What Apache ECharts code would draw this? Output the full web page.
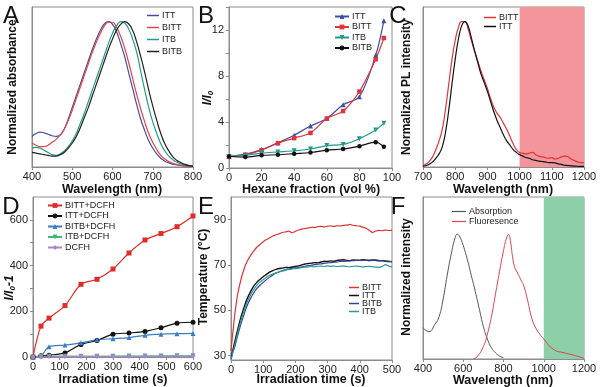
<!DOCTYPE html>
<html><head><meta charset="utf-8">
<script src="https://cdn.jsdelivr.net/npm/echarts@6/dist/echarts.min.js"></script>
<style>html,body{margin:0;padding:0;background:#fff}#c{width:600px;height:387px}</style>
</head><body><div id="c"></div>
<script>
// ---------- Panel A: absorbance ----------
const wlA = [400,410,420,430,440,450,460,470,480,490,500,510,520,530,540,550,560,570,580,590,600,610,620,630,640,650,660,670,680,690,700,710,720,730,740,750,760,770,780,790,800];
const absITT  = [0.21,0.23,0.24,0.235,0.225,0.215,0.21,0.22,0.26,0.33,0.41,0.49,0.57,0.65,0.73,0.81,0.88,0.94,0.985,1.0,0.98,0.93,0.85,0.76,0.65,0.54,0.43,0.33,0.25,0.18,0.13,0.09,0.06,0.04,0.028,0.02,0.014,0.01,0.007,0.005,0.004];
const absBITT = [0.165,0.15,0.14,0.14,0.15,0.17,0.19,0.22,0.26,0.32,0.39,0.47,0.55,0.63,0.71,0.79,0.86,0.92,0.97,0.995,0.995,0.96,0.9,0.82,0.72,0.61,0.5,0.4,0.31,0.23,0.17,0.12,0.08,0.055,0.037,0.025,0.017,0.012,0.008,0.006,0.004];
const absITB  = [0.13,0.135,0.13,0.115,0.1,0.085,0.08,0.09,0.11,0.14,0.18,0.23,0.3,0.37,0.45,0.53,0.61,0.69,0.77,0.85,0.92,0.97,1.0,0.99,0.95,0.88,0.79,0.66,0.53,0.41,0.31,0.23,0.16,0.11,0.075,0.05,0.033,0.022,0.014,0.009,0.006];
const absBITB = [0.1,0.095,0.09,0.085,0.08,0.075,0.075,0.085,0.1,0.13,0.165,0.21,0.27,0.34,0.41,0.49,0.57,0.65,0.73,0.81,0.88,0.94,0.98,1.0,0.985,0.94,0.86,0.76,0.65,0.53,0.42,0.32,0.23,0.16,0.11,0.07,0.045,0.03,0.018,0.01,0.006];

// ---------- Panel B: AIE ----------
const hexFrac = [0,10,20,30,40,50,60,70,80,90,95];
const bITT  = [1.0,1.2,1.6,2.2,2.85,3.65,4.3,5.5,6.2,9.8,12.8];
const bBITT = [1.0,1.15,1.55,2.15,2.6,3.05,4.3,4.95,6.65,9.45,11.3];
const bITB  = [1.0,1.1,1.3,1.4,1.5,1.65,1.95,2.05,2.55,3.3,3.9];
const bBITB = [1.0,0.95,1.1,1.15,1.25,1.35,1.55,1.65,1.9,2.25,1.85];

// ---------- Panel C: PL ----------
const wlC = [700,710,720,730,740,750,760,770,780,790,800,810,820,830,840,850,860,870,880,890,900,910,920,930,940,950,960,970,980,990,1000,1010,1020,1030,1040,1050,1060,1070,1080,1090,1100,1110,1120,1130,1140,1150,1160,1170,1180,1190,1200];
const plBITT = [0.01,0.02,0.04,0.07,0.12,0.18,0.26,0.4,0.57,0.74,0.87,0.96,1.0,1.0,0.95,0.87,0.8,0.73,0.66,0.6,0.54,0.47,0.41,0.37,0.34,0.3,0.26,0.21,0.16,0.12,0.1,0.095,0.09,0.095,0.1,0.085,0.075,0.07,0.065,0.06,0.065,0.055,0.06,0.07,0.075,0.07,0.055,0.045,0.035,0.03,0.03];
const plITT  = [0.005,0.01,0.02,0.035,0.06,0.09,0.14,0.24,0.39,0.57,0.74,0.88,0.97,1.0,0.97,0.89,0.8,0.72,0.64,0.58,0.52,0.45,0.38,0.32,0.27,0.22,0.18,0.15,0.12,0.1,0.085,0.075,0.065,0.06,0.05,0.045,0.04,0.038,0.035,0.03,0.03,0.028,0.022,0.018,0.012,0.01,0.008,0.006,0.005,0.004,0.004];

// ---------- Panel D: ROS ----------
const timeD = [0,30,60,120,180,240,300,360,420,480,540,600];
const dBITT = [0,135,170,225,318,340,385,455,512,540,570,617];
const dITT  = [0,5,8,18,55,72,100,105,112,128,148,152];
const dBITB = [0,5,45,52,62,75,80,85,95,100,102,103];
const dITB  = [0,2,3,3,3,3,3,4,4,4,5,5];
const dDCFH = [0,2,3,3,3,3,3,3,3,4,4,4];

// ---------- Panel E: temperature ----------
const timeE = [0,10,20,30,40,50,60,70,80,90,100,110,120,130,140,150,160,170,180,190,200,210,220,230,240,250,260,270,280,290,300,310,320,330,340,350,360,370,380,390,400,410,420,430,440,450,460,470,480,490,500];
const eBITT = [32,46,56.5,63,68,71.5,74,76,77.8,79,80.2,81.2,82,82.8,83.3,83.8,84.3,84.6,84.9,84.2,84.8,85.4,85.8,86.1,86.4,86.6,86.5,86.9,87,86.8,87.1,87.2,87,87.3,87.2,87.5,87.6,87.9,87.4,87.3,87.1,86.6,86.2,85.2,84.3,85,85.3,85.1,85.4,85.2,85.3];
const eITT  = [28.5,35,41,46.5,51,55,58,60.5,62.3,63.6,64.8,65.8,66.8,67.5,68,68.4,68.6,68.9,68.8,69.1,69.3,69.6,70,70.4,70.6,70.8,71,70.9,71.3,71.6,71.5,71.8,71.6,72,72.2,72.3,72,71.9,72.2,72.1,72,72.3,72.1,71.9,72.2,72,71.8,71.9,71.6,71.5,71.4];
const eBITB = [30.5,33,38.5,43.5,48,52,55,57.5,59.5,61,62.3,63.5,64.6,65.6,66.4,67,67.5,67.9,68.2,68.5,68.7,68.9,69.2,69.4,69.7,69.9,70.1,70.3,70.5,70.7,70.9,71,71.2,71.3,71.5,71.6,71.7,71.8,71.9,72,72,72.1,72,72.1,72,72.2,72,71.8,71.7,71.6,71.5];
const eITB  = [28,33.5,39.5,45,49.5,53.5,56.5,59,61,62.4,63.5,64.6,65.4,66,66.5,66.9,67.3,67.7,68,68.2,68.4,68.6,68.8,69,69.1,69.3,69.2,69.4,69.5,69.3,69.6,69.4,69.5,69.3,69.4,69.5,69.3,69.2,69.4,69.5,69.3,69.1,69.3,69.4,69.2,69,68.9,69.4,70.1,69.5,69];

// ---------- Panel F: abs / fluorescence ----------
const wlFabs = [400,430,460,480,500,520,540,560,570,580,600,620,640,660,680,700,720,740,760,780,800];
const fAbs   = [0.25,0.22,0.28,0.34,0.48,0.67,0.84,0.975,1.0,0.99,0.91,0.8,0.67,0.54,0.4,0.26,0.16,0.09,0.05,0.025,0.01];
const wlFfl  = [650,670,700,720,740,760,780,800,815,825,835,845,855,870,885,900,920,940,960,980,1000,1050,1100,1150,1200];
const fFluo  = [0.0,0.02,0.1,0.2,0.34,0.52,0.7,0.87,0.97,1.0,0.94,0.82,0.74,0.69,0.64,0.59,0.47,0.33,0.25,0.2,0.16,0.075,0.05,0.03,0.005];

const FONT = '"Liberation Sans", Arial, sans-serif';
const zip = (xs, ys) => xs.map((x, i) => [x, ys[i]]);
const AXC = '#8c8c8c';

function grid(l, t, w, h) {
  return {left: l, top: t, width: w, height: h, show: true, borderColor: AXC, borderWidth: 1};
}
function xAx(gi, min, max, interval) {
  return {
    type: 'value', gridIndex: gi, min, max, interval,
    axisLine: {show: true, lineStyle: {color: AXC}},
    axisTick: {show: true, length: 3, lineStyle: {color: AXC}},
    axisLabel: {fontSize: 11, color: '#222', margin: 4, fontFamily: FONT, formatter: v => String(v)},
    splitLine: {show: false}
  };
}
function yAx(gi, min, max, extra) {
  return Object.assign({
    type: 'value', gridIndex: gi, min, max,
    axisLine: {show: true, lineStyle: {color: AXC}},
    axisTick: {show: false},
    axisLabel: {show: false},
    splitLine: {show: false}
  }, extra || {});
}
function line(name, gi, data, color, opts) {
  return Object.assign({
    name, type: 'line', xAxisIndex: gi, yAxisIndex: gi, data,
    showSymbol: false, symbol: 'none', smooth: true,
    lineStyle: {color, width: 1.2}, itemStyle: {color},
    animation: false
  }, opts || {});
}
function mline(name, gi, data, color, sym, opts) {
  return Object.assign({
    name, type: 'line', xAxisIndex: gi, yAxisIndex: gi, data,
    symbol: sym, symbolSize: 5, smooth: 0.3,
    lineStyle: {color, width: 1.2}, itemStyle: {color},
    animation: false
  }, opts || {});
}
function legend(names, left, top, gap, extra) {
  return Object.assign({
    data: names, left, top, orient: 'vertical', itemGap: gap,
    itemWidth: 14, itemHeight: 6, padding: 0,
    formatter: n => n.split('#')[0],
    textStyle: {fontSize: 9, color: '#222', fontFamily: FONT, padding: [0, 0, 0, -2]},
    selectedMode: false
  }, extra || {});
}
const lineIcon = {icon: 'rect', itemHeight: 1.5, itemWidth: 12};
function txt(text, x, y, size, weight, rot) {
  return {
    type: 'text', x, y, rotation: rot || 0,
    style: {text, font: (weight || 'normal') + ' ' + size + 'px ' + FONT, fill: '#111',
      textAlign: 'center', textVerticalAlign: 'middle'}
  };
}

const cA = {ITT: '#4b4b9e', BITT: '#e0454e', ITB: '#259b8b', BITB: '#222222'};
const cD = {BITT: '#e02b2b', ITT: '#111111', BITB: '#3b7cc4', ITB: '#3cb878', DCFH: '#a884cc'};
const cE = {BITT: '#e03333', ITT: '#111111', BITB: '#3a3f9c', ITB: '#2a9d92'};

const option = {
  backgroundColor: '#fff',
  animation: false,
  grid: [grid(32, 7, 161, 160), grid(229, 7, 163, 161), grid(423, 7, 161, 160),
         grid(33, 197, 160, 160), grid(231, 197, 161, 163), grid(423, 197, 161, 162)],
  xAxis: [
    xAx(0, 400, 800, 100),
    xAx(1, 0, 100, 20),
    xAx(2, 700, 1200, 100),
    xAx(3, 0, 600, 100),
    xAx(4, 0, 500, 100),
    xAx(5, 400, 1200, 200)
  ],
  yAxis: [
    yAx(0, 0, 1.1),
    yAx(1, 0, 14, {axisTick: {show: true, length: 3, lineStyle: {color: AXC}, customValues: [0, 2, 4, 6, 8, 10, 12, 14]},
      axisLabel: {show: true, fontSize: 11, color: '#222', margin: 5, fontFamily: FONT, customValues: [0, 4, 8, 12]}}),
    yAx(2, 0, 1.1),
    yAx(3, 0, 700, {axisTick: {show: true, length: 3, lineStyle: {color: AXC}, customValues: [0, 100, 200, 300, 400, 500, 600]},
      axisLabel: {show: true, fontSize: 11, color: '#222', margin: 5, fontFamily: FONT, customValues: [0, 200, 400, 600]}}),
    yAx(4, 28, 100, {axisTick: {show: true, length: 3, lineStyle: {color: AXC}, customValues: [30, 50, 70, 90]},
      axisLabel: {show: true, fontSize: 11, color: '#222', margin: 5, fontFamily: FONT, customValues: [30, 50, 70, 90]}}),
    yAx(5, 0, 1.3)
  ],
  legend: [
    legend(['ITT#A', 'BITT#A', 'ITB#A', 'BITB#A'], 147, 11, 3, lineIcon),
    legend(['ITT#B', 'BITT#B', 'ITB#B', 'BITB#B'], 334, 12, 1.5),
    legend(['BITT#C', 'ITT#C'], 484, 13, 0, lineIcon),
    legend(['BITT+DCFH', 'ITT+DCFH', 'BITB+DCFH', 'ITB+DCFH', 'DCFH'], 47, 201, 1.5),
    legend(['BITT#E', 'ITT#E', 'BITB#E', 'ITB#E'], 349, 283, -1, {icon: 'rect', itemHeight: 1.5, itemWidth: 10}),
    legend(['Absorption', 'Fluoresence'], 452, 207, 1, {icon: 'rect', itemHeight: 1.2, itemWidth: 14})
  ],
  series: [
    // A
    line('ITT#A', 0, zip(wlA, absITT), cA.ITT),
    line('BITT#A', 0, zip(wlA, absBITT), cA.BITT),
    line('ITB#A', 0, zip(wlA, absITB), cA.ITB),
    line('BITB#A', 0, zip(wlA, absBITB), cA.BITB),
    // B
    mline('ITT#B', 1, zip(hexFrac, bITT), '#3b4ea3', 'triangle'),
    mline('BITT#B', 1, zip(hexFrac, bBITT), '#e0343c', 'rect', {symbolSize: 4.5}),
    mline('ITB#B', 1, zip(hexFrac, bITB), '#1f9a8c', 'triangle', {symbolRotate: 180}),
    mline('BITB#B', 1, zip(hexFrac, bBITB), '#111', 'circle', {symbolSize: 4.5}),
    // C
    line('BITT#C', 2, zip(wlC, plBITT), '#e0343c', {markArea: {silent: true, itemStyle: {color: '#f3959b'},
      data: [[{xAxis: 1000}, {xAxis: 1200}]]}, z: 3}),
    line('ITT#C', 2, zip(wlC, plITT), '#111', {z: 4}),
    // D
    mline('BITT+DCFH', 3, zip(timeD, dBITT), cD.BITT, 'rect'),
    mline('ITT+DCFH', 3, zip(timeD, dITT), cD.ITT, 'circle'),
    mline('BITB+DCFH', 3, zip(timeD, dBITB), cD.BITB, 'triangle'),
    mline('ITB+DCFH', 3, zip(timeD, dITB), cD.ITB, 'triangle', {symbolRotate: 180}),
    mline('DCFH', 3, zip(timeD, dDCFH), cD.DCFH, 'diamond'),
    // E
    line('BITT#E', 4, zip(timeE, eBITT), cE.BITT, {smooth: 0.2}),
    line('ITT#E', 4, zip(timeE, eITT), cE.ITT, {smooth: 0.2, lineStyle: {color: cE.ITT, width: 1.4}}),
    line('BITB#E', 4, zip(timeE, eBITB), cE.BITB, {smooth: 0.2}),
    line('ITB#E', 4, zip(timeE, eITB), cE.ITB, {smooth: 0.2}),
    // F
    line('Absorption', 5, zip(wlFabs, fAbs), '#555', {markArea: {silent: true, itemStyle: {color: '#8ccfa9'},
      data: [[{xAxis: 1000}, {xAxis: 1200}]]}, lineStyle: {color: '#555', width: 1}}),
    line('Fluoresence', 5, zip(wlFfl, fFluo), '#e0434b', {lineStyle: {color: '#e0434b', width: 1}, z: 4})
  ],
  graphic: [
    // panel letters
    txt('A', 11, 16, 24), txt('B', 206, 16, 24), txt('C', 398, 16, 24),
    txt('D', 11, 207, 24), txt('E', 206, 207, 24), txt('F', 398, 207, 24),
    // NIR-II labels
    txt('NIR-II', 552, 22, 11, 'bold'), txt('NIR-II', 563, 218, 11, 'bold'),
    // x titles
    txt('Wavelength (nm)', 112, 190, 12.5, 'bold'),
    txt('Hexane fraction (vol %)', 311, 190, 12.5, 'bold'),
    txt('Wavelength (nm)', 503, 190, 12.5, 'bold'),
    txt('Irradiation time (s)', 113, 380, 12.5, 'bold'),
    txt('Irradiation time (s)', 311, 380, 12.5, 'bold'),
    txt('Wavelength (nm)', 503, 381, 12.5, 'bold'),
    // y titles
    txt('Normalized absorbance', 13, 87, 12, 'bold', Math.PI / 2),
    {type: 'text', x: 208, y: 98, rotation: Math.PI / 2,
      style: {text: '{a|I/I}{b|0}', textAlign: 'center', textVerticalAlign: 'middle',
        rich: {a: {font: 'italic bold 12px ' + FONT, fill: '#111'}, b: {font: 'italic bold 8px ' + FONT, fill: '#111', padding: [6, 0, 0, 0]}}}},
    txt('Normalized PL intensity', 407, 87, 12, 'bold', Math.PI / 2),
    {type: 'text', x: 10, y: 288, rotation: Math.PI / 2,
      style: {text: '{a|I/I}{b|0}{a|-1}', textAlign: 'center', textVerticalAlign: 'middle',
        rich: {a: {font: 'italic bold 12px ' + FONT, fill: '#111'}, b: {font: 'italic bold 8px ' + FONT, fill: '#111', padding: [6, 0, 0, 0]}}}},
    txt('Temperature (°C)', 204, 277, 12, 'bold', Math.PI / 2),
    txt('Normalized intensity', 407, 277, 12, 'bold', Math.PI / 2)
  ]
};
const chart = echarts.init(document.getElementById('c'), null, {renderer: 'canvas'});
chart.setOption(option);
</script>
</body></html>
